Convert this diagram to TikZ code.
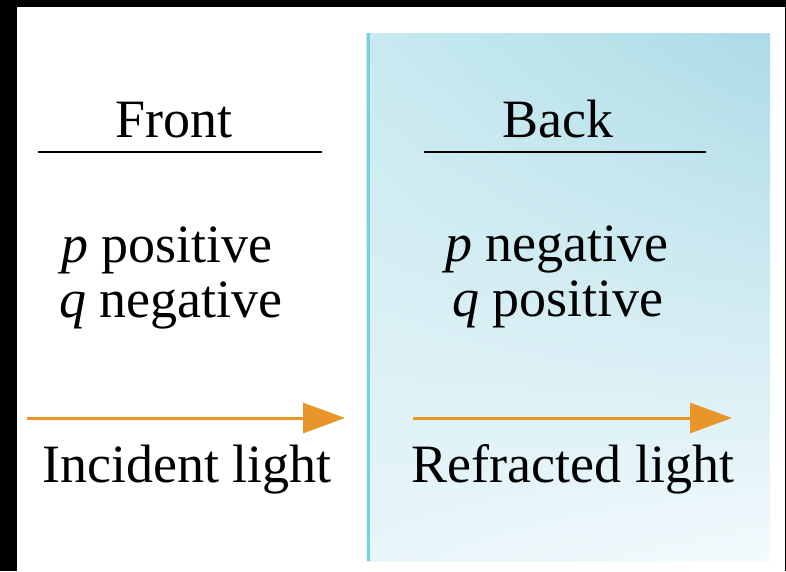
\documentclass[tikz,border=0pt]{standalone}
\usepackage{fontspec}
\setmainfont{Liberation Serif}
\usetikzlibrary{arrows.meta,shadings}
\definecolor{lightorange}{HTML}{E8962A}
\definecolor{edgecyan}{HTML}{74D3D8}
\definecolor{panelUL}{HTML}{C8EAF0}
\definecolor{panelUR}{HTML}{ACDBE6}
\definecolor{panelLL}{HTML}{E8F5F9}
\definecolor{panelLR}{HTML}{F3FAFD}
\tikzset{
  lbl/.style={anchor=base, inner sep=0pt, font=\fontsize{54}{60}\selectfont},
  rule/.style={line width=2pt, black},
  ray/.style={line width=3pt, lightorange, -{Triangle[length=42pt,width=30pt]}}
}
\begin{document}
\begin{tikzpicture}[x=1pt,y=-1pt]
\useasboundingbox (0,0) rectangle (786,571);
\fill[black] (0,0) rectangle (786,571);
\fill[white] (17,7) rectangle (785,571);
\shade[upper left=panelUL, upper right=panelUR, lower left=panelLL, lower right=panelLR] (366,33) rectangle (770,561);
\draw[edgecyan, line width=3pt] (368,33) -- (368,561);
% headings
\node[lbl] (front) at (174,137) {Front};
\node[lbl] (back) at (558,137) {Back};
\coordinate (fl1) at (38,152); \coordinate (fl2) at (322,152);
\coordinate (bl1) at (424,152); \coordinate (bl2) at (706,152);
\draw[rule] (fl1) -- (fl2);
\draw[rule] (bl1) -- (bl2);
% sign conventions
\node[lbl] (pp) at (167,262) {\textit{p} positive};
\node[lbl] (qn) at (171,317) {\textit{q} negative};
\node[lbl] (pn) at (557,261) {\textit{p} negative};
\node[lbl] (qp) at (558,316) {\textit{q} positive};
% rays
\coordinate (i1) at (27,418); \coordinate (i2) at (345,418);
\coordinate (r1) at (413,418); \coordinate (r2) at (732,418);
\draw[ray] (i1) -- (i2);
\draw[ray] (r1) -- (r2);
\node[lbl] (inc) at (187,482) {Incident light};
\node[lbl] (ref) at (573,482) {Refracted light};
\end{tikzpicture}
\end{document}
